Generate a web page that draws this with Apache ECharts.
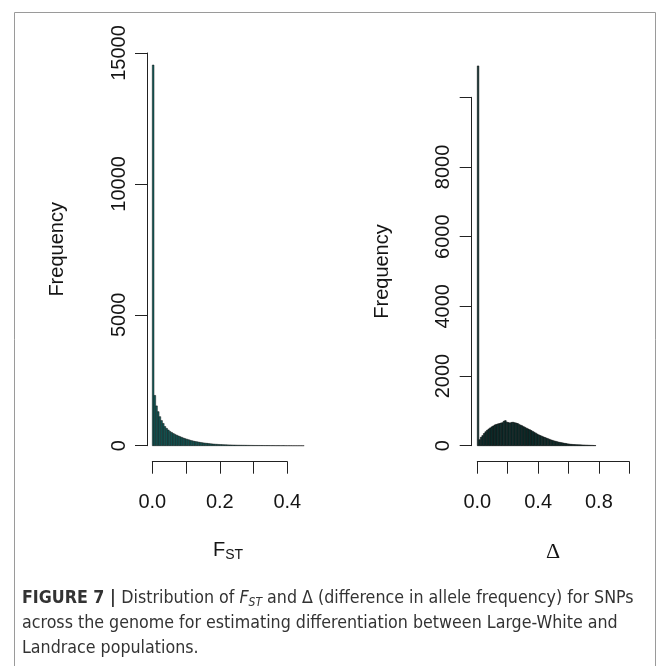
<!DOCTYPE html>
<html><head><meta charset="utf-8">
<script src="https://cdn.jsdelivr.net/npm/echarts@6/dist/echarts.min.js"></script>
<style>html,body{margin:0;padding:0;background:#fff}#c{width:667px;height:666px}</style>
</head><body><div id="c"></div>
<script>
// ---------------- data ----------------
const fstBinWidth = 0.005;
const fstCounts = [14540,1920,1520,1300,1110,960,850,730,660,600,
  545,505,465,432,400,372,345,318,292,268,
  248,228,206,190,174,160,148,137,125,115,
  105,97,89,81,74,67,61,56,52,48,
  44,41,38,35,32,30,28,26,24,22,
  20,19,18,17,16,15,14,13,12,11,
  10,10,9,9,8,8,7,7,6,6,
  5,5,5,4,4,4,3,3,3,2,
  2,2,2,1,1,1,1,1,1,1];
const deltaBinWidth = 0.01;
const deltaCounts = [10900,172,240,290,350,400,440,478,510,540,
  565,595,610,625,635,648,660,700,720,675,
  665,650,668,672,660,650,638,612,590,570,
  545,525,500,480,458,436,410,385,360,332,
  310,290,270,252,235,218,200,183,166,152,
  138,126,114,102,94,86,77,68,60,52,
  46,40,36,33,30,28,26,24,22,20,
  18,16,14,12,10,9,7,5];
const fstTicks = [0, 0.1, 0.2, 0.3, 0.4];
const fstTickLabels = ['0.0', '', '0.2', '', '0.4'];
const deltaTicks = [0, 0.2, 0.4, 0.6, 0.8, 1.0];
const deltaTickLabels = ['0.0', '', '0.4', '', '0.8', ''];
const fstFreqTicks = [0, 5000, 10000, 15000];
const fstFreqLabels = ['0', '5000', '10000', '15000'];
const deltaFreqTicks = [0, 2000, 4000, 6000, 8000, 10000];
const deltaFreqLabels = ['0', '2000', '4000', '6000', '8000', ''];

// ---------------- helpers ----------------
function histData(counts, w) {
  return counts.map((c, i) => [i * w, (i + 1) * w, c]);
}
function fmt(ticks, labels) {
  return v => { const i = ticks.findIndex(t => Math.abs(t - v) < 1e-9); return i >= 0 ? labels[i] : ''; };
}
const PF = "'Liberation Sans', Arial, sans-serif";
const INK = '#151515';
const cv = document.createElement('canvas').getContext('2d');
function tw(text, font) { cv.font = font; return cv.measureText(text).width; }

// ---------------- layout ----------------
const L = { x0: 152.3, ppx: 337.5, yb: 445.7, yt: 53 };
const R = { x0: 477.3, ppx: 152, yb: 445.7, yt: 97.3 };
const rPPY = (R.yb - R.yt) / 10000;

function axisStyle(extra) {
  return Object.assign({
    axisLine: { show: true, onZero: false, lineStyle: { color: '#222', width: 1 } },
    axisTick: { show: true, inside: false, length: 12, lineStyle: { color: '#222', width: 1 } },
    splitLine: { show: false }
  }, extra);
}
function renderHist(fill, stroke, lw) {
  return function (params, api) {
    const p0 = api.coord([api.value(0), api.value(2)]);
    const p1 = api.coord([api.value(1), 0]);
    return { type: 'rect', shape: { x: p0[0], y: p0[1], width: p1[0] - p0[0], height: p1[1] - p0[1] },
      style: { fill: fill, stroke: stroke, lineWidth: lw } };
  };
}

const labelX = (ticks, labels) => ({ fontSize: 20, fontFamily: PF, color: INK, margin: 31, interval: 0, formatter: fmt(ticks, labels) });
const labelY = (ticks, labels) => ({ fontSize: 20, fontFamily: PF, color: INK, margin: 18, rotate: 90, interval: 0, formatter: fmt(ticks, labels) });

// ---------------- caption ----------------
const CF = "'Liberation Sans Narrow', 'DejaVu Sans Condensed', 'Liberation Sans', sans-serif";
const line2 = 'across the genome for estimating differentiation between Large-White and';
let cs = 100 * 596 / tw(line2, '100px ' + CF);
cs = Math.max(13, Math.min(20, cs));
const CC = '#333';
const capX = 22;
const graphics = [];
graphics.push({ type: 'rect', shape: { x: 14.5, y: 12.5, width: 641, height: 700 }, style: { fill: 'none', stroke: '#9a9a9a', lineWidth: 1 }, silent: true });
function addRun(runs, y) {
  let x = capX;
  runs.forEach(r => {
    const size = r.sub ? cs * 0.68 : cs;
    const font = (r.italic ? 'italic ' : '') + (r.bold ? 'bold ' : '') + size.toFixed(2) + 'px ' + CF;
    graphics.push({ type: 'text', style: { text: r.t, x: x, y: y + (r.sub ? cs * 0.28 : 0), font: font, fill: CC, textAlign: 'left', textVerticalAlign: 'middle' }, silent: true });
    x += tw(r.t, font);
  });
}
addRun([{ t: 'FIGURE 7 | ', bold: true }, { t: 'Distribution of ' }, { t: 'F', italic: true }, { t: 'ST', italic: true, sub: true }, { t: ' and \u0394 (difference in allele frequency) for SNPs' }], 598);
addRun([{ t: line2 }], 623);
addRun([{ t: 'Landrace populations.' }], 648);

// x-axis titles
(function () {
  const fF = '20px ' + PF, fS = '14px ' + PF;
  const w = tw('F', fF) + tw('ST', fS);
  const x = 228 - w / 2;
  graphics.push({ type: 'text', style: { text: 'F', x: x, y: 550, font: fF, fill: INK, textAlign: 'left', textVerticalAlign: 'middle' }, silent: true });
  graphics.push({ type: 'text', style: { text: 'ST', x: x + tw('F', fF), y: 555, font: fS, fill: INK, textAlign: 'left', textVerticalAlign: 'middle' }, silent: true });
  graphics.push({ type: 'text', style: { text: '\u0394', x: 553, y: 552, font: "22px 'Liberation Serif', serif", fill: INK, textAlign: 'center', textVerticalAlign: 'middle' }, silent: true });
})();

// ---------------- chart ----------------
const chart = echarts.init(document.getElementById('c'), null, { renderer: 'canvas' });
chart.setOption({
  animation: false,
  backgroundColor: '#fff',
  grid: [
    { left: L.x0, top: L.yt, width: 0.47 * L.ppx, height: L.yb - L.yt },
    { left: L.x0, top: L.yt, width: 0.4 * L.ppx, height: L.yb - L.yt },
    { left: R.x0, top: R.yb - 11000 * rPPY, width: R.ppx, height: 11000 * rPPY },
    { left: R.x0, top: R.yt, width: R.ppx, height: R.yb - R.yt }
  ],
  xAxis: [
    { gridIndex: 0, type: 'value', min: 0, max: 0.47, show: false },
    axisStyle({ gridIndex: 1, type: 'value', min: 0, max: 0.4, interval: 0.1, offset: 16, axisLabel: labelX(fstTicks, fstTickLabels) }),
    { gridIndex: 2, type: 'value', min: 0, max: 1, show: false },
    axisStyle({ gridIndex: 3, type: 'value', min: 0, max: 1, interval: 0.2, offset: 16, axisLabel: labelX(deltaTicks, deltaTickLabels) })
  ],
  yAxis: [
    axisStyle({ gridIndex: 0, type: 'value', min: 0, max: 15000, interval: 5000, offset: 5.3,
      axisLabel: labelY(fstFreqTicks, fstFreqLabels),
      name: 'Frequency', nameLocation: 'middle', nameRotate: 90, nameGap: 80,
      nameTextStyle: { fontSize: 20, fontFamily: PF, color: INK } }),
    { gridIndex: 1, type: 'value', min: 0, max: 15000, show: false },
    { gridIndex: 2, type: 'value', min: 0, max: 11000, show: false },
    axisStyle({ gridIndex: 3, type: 'value', min: 0, max: 10000, interval: 2000, offset: 5.6,
      axisLabel: labelY(deltaFreqTicks, deltaFreqLabels),
      name: 'Frequency', nameLocation: 'middle', nameRotate: 90, nameGap: 79,
      nameTextStyle: { fontSize: 20, fontFamily: PF, color: INK } })
  ],
  series: [
    { type: 'custom', xAxisIndex: 0, yAxisIndex: 0, data: histData(fstCounts, fstBinWidth),
      encode: { x: [0, 1], y: 2 }, renderItem: renderHist('#11605e', '#111', 0.5), silent: true },
    { type: 'custom', xAxisIndex: 2, yAxisIndex: 2, data: histData(deltaCounts, deltaBinWidth),
      encode: { x: [0, 1], y: 2 }, renderItem: renderHist('#0a3634', '#0d0d0d', 0.6), silent: true }
  ],
  graphic: graphics
});
</script></body></html>
